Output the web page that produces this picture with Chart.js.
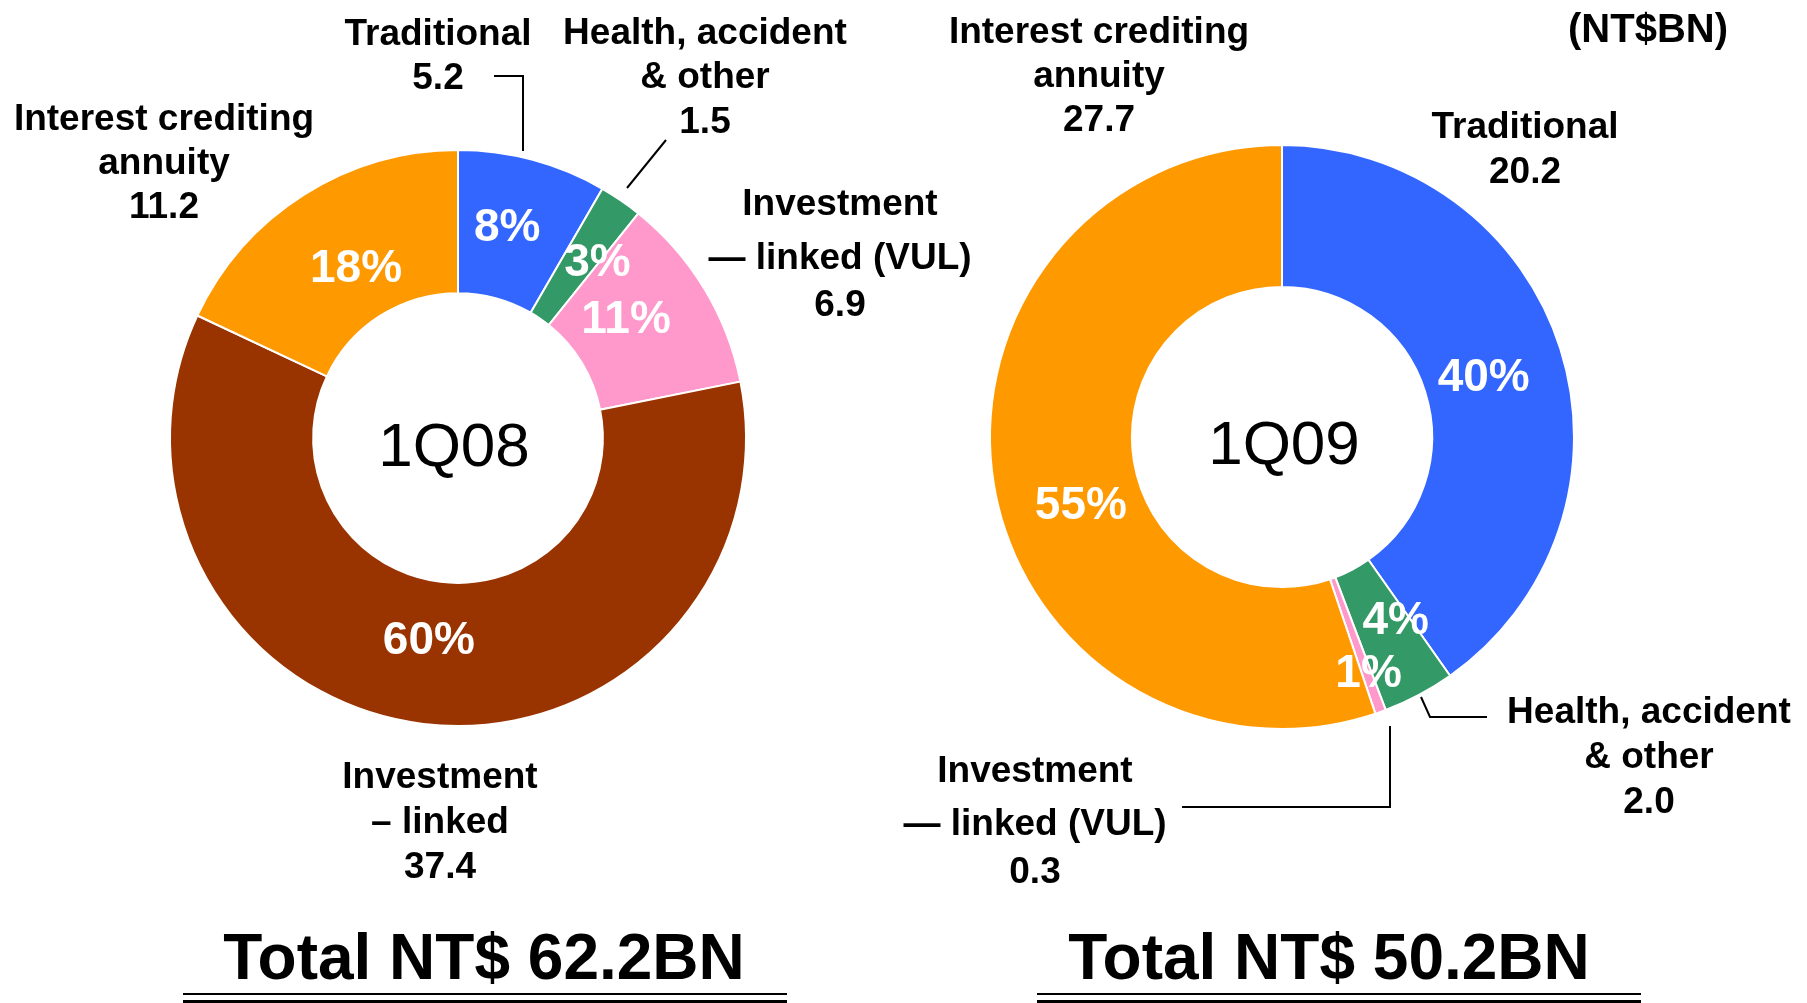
<!DOCTYPE html>
<html>
<head>
<meta charset="utf-8">
<script src="https://cdn.jsdelivr.net/npm/chart.js@4"></script>
<style>
    body {
        margin: 0;
        background: #ffffff;
        font-family: "Liberation Sans", Arial, sans-serif;
    }
    #page {
        position: relative;
        width: 1807px;
        height: 1003px;
        overflow: hidden;
        background: #ffffff;
    }
    .chart-wrap {
        position: absolute;
        width: 600px;
        height: 600px;
    }
    .txt {
        position: absolute;
        transform: translate(-50%, -50%);
        white-space: nowrap;
        line-height: 1;
        color: #000000;
    }
    .label { font-size: 37px; font-weight: bold; }
    .period { font-size: 62px; font-weight: normal; }
    .total { font-size: 64px; font-weight: bold; }
    .unit { font-size: 40px; font-weight: bold; }
    .rule {
        position: absolute;
        background: #000000;
    }
    svg { position: absolute; left: 0; top: 0; }
</style>
</head>
<body>
<div id="page">
    <div class="chart-wrap" style="left:158px;top:138px"><canvas id="chart1Q08" width="600" height="600"></canvas></div>
    <div class="chart-wrap" style="left:982px;top:137px"><canvas id="chart1Q09" width="600" height="600"></canvas></div>
    <svg id="leaders" width="1807" height="1003"></svg>
</div>
<script>
// data (NT$BN)
const periods = ["1Q08", "1Q09"];
const unitLabel = "(NT$BN)";

const categories1Q08 = ["Traditional", "Health, accident & other", "Investment – linked (VUL)", "Investment – linked", "Interest crediting annuity"];
const values1Q08 = [5.2, 1.5, 6.9, 37.4, 11.2];
const percent1Q08 = [8, 3, 11, 60, 18];

const categories1Q09 = ["Traditional", "Health, accident & other", "Investment – linked (VUL)", "Interest crediting annuity"];
const values1Q09 = [20.2, 2.0, 0.3, 27.7];
const percent1Q09 = [40, 4, 1, 55];

// styles
const sliceColors = {
    "Traditional": "#3366FF",
    "Health, accident & other": "#339966",
    "Investment – linked (VUL)": "#FF99CC",
    "Investment – linked": "#993300",
    "Interest crediting annuity": "#FF9900"
};

// where the outside labels sit; name lines then the value line
const labelLayout1Q08 = [
    { lines: ["Traditional"], x: 438, ys: [32, 76] },
    { lines: ["Health, accident", "& other"], x: 705, ys: [31, 75, 120] },
    { lines: ["Investment", "\u2014 linked (VUL)"], x: 840, ys: [202, 256, 303] },
    { lines: ["Investment", "\u2013 linked"], x: 440, ys: [775, 820, 865] },
    { lines: ["Interest crediting", "annuity"], x: 164, ys: [117, 161, 205] }
];
const labelLayout1Q09 = [
    { lines: ["Traditional"], x: 1525, ys: [125, 170] },
    { lines: ["Health, accident", "& other"], x: 1649, ys: [710, 755, 800] },
    { lines: ["Investment", "\u2014 linked (VUL)"], x: 1035, ys: [769, 822, 870] },
    { lines: ["Interest crediting", "annuity"], x: 1099, ys: [30, 74, 118] }
];

// nudges of the % labels from the ring centre of each slice
const pctNudge1Q08 = [[-7, -1], [17, 4], [-17, -5], [-3, -12], [14, 14]];
const pctNudge1Q09 = [[-9, 8], [10, -11], [12, 29], [17, 34]];

const leaderLines = [
    [[494, 76], [523, 76], [523, 151]],
    [[666, 140], [627, 188]],
    [[1421, 697], [1430, 717], [1487, 717]],
    [[1390, 726], [1390, 807], [1182, 807]]
];

const page = document.getElementById("page");

function addText(text, cls, x, y) {
    const div = document.createElement("div");
    div.className = `txt ${cls}`;
    div.textContent = text;
    div.style.left = `${x}px`;
    div.style.top = `${y}px`;
    page.appendChild(div);
}

function addRule(x, y, w, h) {
    const div = document.createElement("div");
    div.className = "rule";
    div.style.left = `${x}px`;
    div.style.top = `${y}px`;
    div.style.width = `${w}px`;
    div.style.height = `${h}px`;
    page.appendChild(div);
}

const percentLabels = {
    id: "percentLabels",
    afterDatasetsDraw(chart, args, opts) {
        const ctx = chart.ctx;
        const meta = chart.getDatasetMeta(0);
        ctx.save();
        ctx.fillStyle = "#ffffff";
        ctx.font = "bold 46px 'Liberation Sans', Arial, sans-serif";
        ctx.textAlign = "center";
        ctx.textBaseline = "middle";
        meta.data.forEach((arc, i) => {
            const p = arc.getCenterPoint();
            const nudge = opts.nudges[i];
            ctx.fillText(`${opts.percents[i]}%`, p.x + nudge[0], p.y + nudge[1]);
        });
        ctx.restore();
    }
};

function renderDonut(canvasId, categories, values, percents, nudges, radius, cutout) {
    return new Chart(document.getElementById(canvasId), {
        type: "doughnut",
        data: {
            labels: categories,
            datasets: [
                {
                    data: values,
                    backgroundColor: categories.map((c) => sliceColors[c]),
                    borderColor: "#ffffff",
                    borderWidth: 2
                }
            ]
        },
        options: {
            responsive: false,
            animation: false,
            radius: radius,
            cutout: cutout,
            plugins: {
                legend: { display: false },
                tooltip: { enabled: false },
                percentLabels: { percents: percents, nudges: nudges }
            }
        },
        plugins: [percentLabels]
    });
}

function renderLabels(layout, values) {
    layout.forEach((item, i) => {
        const lines = item.lines.concat([values[i].toFixed(1)]);
        lines.forEach((line, j) => addText(line, "label", item.x, item.ys[j]));
    });
}

function renderTotal(values, x, ruleX, ruleW) {
    const total = values.reduce((a, b) => a + b, 0);
    addText(`Total NT$ ${total.toFixed(1)}BN`, "total", x, 957);
    addRule(ruleX, 993, ruleW, 2);
    addRule(ruleX, 1000, ruleW, 3);
}

renderDonut("chart1Q08", categories1Q08, values1Q08, percent1Q08, pctNudge1Q08, 288, "50.3%");
renderDonut("chart1Q09", categories1Q09, values1Q09, percent1Q09, pctNudge1Q09, 292, "51.4%");

addText(periods[0], "period", 454, 445);
addText(periods[1], "period", 1284, 443);
addText(unitLabel, "unit", 1648, 28);

renderLabels(labelLayout1Q08, values1Q08);
renderLabels(labelLayout1Q09, values1Q09);

renderTotal(values1Q08, 484, 183, 604);
renderTotal(values1Q09, 1329, 1037, 604);

const svg = document.getElementById("leaders");
leaderLines.forEach((pts) => {
    const line = document.createElementNS("http://www.w3.org/2000/svg", "polyline");
    line.setAttribute("points", pts.map((p) => p.join(",")).join(" "));
    line.setAttribute("fill", "none");
    line.setAttribute("stroke", "#000000");
    line.setAttribute("stroke-width", "2");
    svg.appendChild(line);
});
</script>
</body>
</html>
